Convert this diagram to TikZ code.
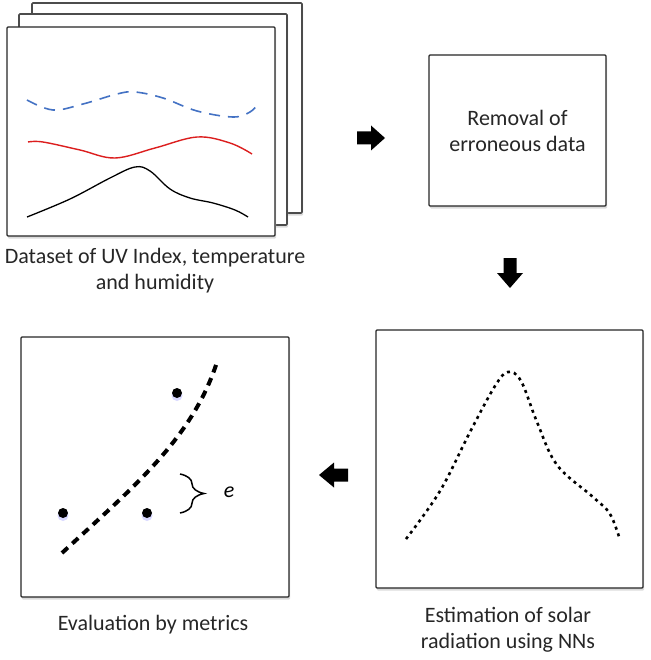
\documentclass[tikz,border=0pt]{standalone}
\usepackage{fontspec}
\setmainfont{Carlito}
\usetikzlibrary{decorations.pathreplacing,shadows}
\begin{document}
\begin{tikzpicture}[x=1pt,y=-1pt,
  panel/.style={draw=black!85, line width=1.3pt, fill=white, rounded corners=1pt, inner sep=0pt,
    drop shadow={shadow xshift=1pt, shadow yshift=-2.5pt, fill=black!14, opacity=1}},
  backpanel/.style={panel, draw=black!70, line width=1.6pt},
  captext/.style={font=\fontsize{22}{26}\selectfont, text=black!85, align=center, inner sep=0pt},
  blockarrow/.style={fill=black, draw=none},
  dotpt/.style={fill=black, draw=none, circle, minimum size=10pt, inner sep=0pt}
]
\useasboundingbox (0,0) rectangle (650,660);

% stacked dataset panels
\node[backpanel, minimum width=270pt, minimum height=210pt] (back2) at (167,108) {};
\node[backpanel, minimum width=268pt, minimum height=211pt] (back1) at (153,119.5) {};
\node[panel, minimum width=268pt, minimum height=209pt] (data) at (141,131.5) {};

\draw[color={rgb,255:red,68;green,114;blue,196}, line width=1.6pt, dash pattern=on 11pt off 8pt]
  plot[smooth, tension=0.6] coordinates {(27,100) (53,110) (83,104) (117,94) (135,92) (163,98) (197,111) (233,117) (250,112) (258,104)};
\draw[color={rgb,255:red,220;green,30;blue,30}, line width=1.4pt]
  plot[smooth, tension=0.6] coordinates {(28,142) (43,142) (80,150) (115,158) (155,148) (197,137) (230,143) (252,154)};
\draw[black, line width=1.3pt]
  plot[smooth, tension=0.6] coordinates {(27,217) (70,199) (110,178) (135,167) (150,171) (170,189) (190,198) (213,203) (235,210) (248,217)};

\node[captext] (datacap) at (155,271) {Dataset of UV Index, temperature\\and humidity};

% removal box
\coordinate (arr1) at (371,138);
\fill[blockarrow, shift={(arr1)}] (-14,-6.5) -- (0,-6.5) -- (0,-12.5) -- (14,0) -- (0,12.5) -- (0,6.5) -- (-14,6.5) -- cycle;
\node[panel, minimum width=177pt, minimum height=151pt, captext, font=\fontsize{22}{26}\selectfont] (removal) at (517.5,130.5) {Removal of\\erroneous data};

\coordinate (arr2) at (510,273);
\fill[blockarrow, shift={(arr2)}] (-6.5,-15) -- (6.5,-15) -- (6.5,0) -- (13,0) -- (0,15) -- (-13,0) -- (-6.5,0) -- cycle;

% estimation box
\node[panel, minimum width=267pt, minimum height=258pt] (estim) at (509.5,459) {};
\draw[black, line width=2.6pt, dash pattern=on 3pt off 4pt]
  plot[smooth, tension=0.6] coordinates {(406,539) (440,491) (470,432) (495,386) (508,372) (521,381) (537,422) (557,465) (593,497) (610,514) (620,540)};
\node[captext] (estcap) at (508,630) {Estimation of solar\\radiation using NNs};

\coordinate (arr3) at (333,475);
\fill[blockarrow, shift={(arr3)}] (15,-6.5) -- (1,-6.5) -- (1,-12.5) -- (-14,0) -- (1,12.5) -- (1,6.5) -- (15,6.5) -- cycle;

% evaluation box
\node[panel, minimum width=268pt, minimum height=260pt] (evalbox) at (155,467) {};
\coordinate (c0) at (62,553);
\coordinate (c1) at (217,362);
\draw[black, line width=4pt, dash pattern=on 8pt off 6pt]
  (c0) .. controls (130,490) and (192,440) .. (c1);
\fill[blue!25, opacity=0.6] (177,395.5) circle (5.5pt) (63,515.5) circle (5.5pt) (147,515.5) circle (5.5pt);
\node[dotpt] (p1) at (177,393) {};
\node[dotpt] (p2) at (63,513) {};
\node[dotpt] (p3) at (147,513) {};
\coordinate (bt) at (180,474);
\coordinate (bb) at (180,513);
\draw[black, line width=1.5pt, decorate, decoration={brace, amplitude=24pt, aspect=0.5}] (bt) -- (bb);
\node[font=\fontsize{22}{26}\selectfont\itshape, inner sep=0pt] (e) at (229,492) {e};
\node[captext] (evalcap) at (153,625) {Evaluation by metrics};
\end{tikzpicture}
\end{document}
